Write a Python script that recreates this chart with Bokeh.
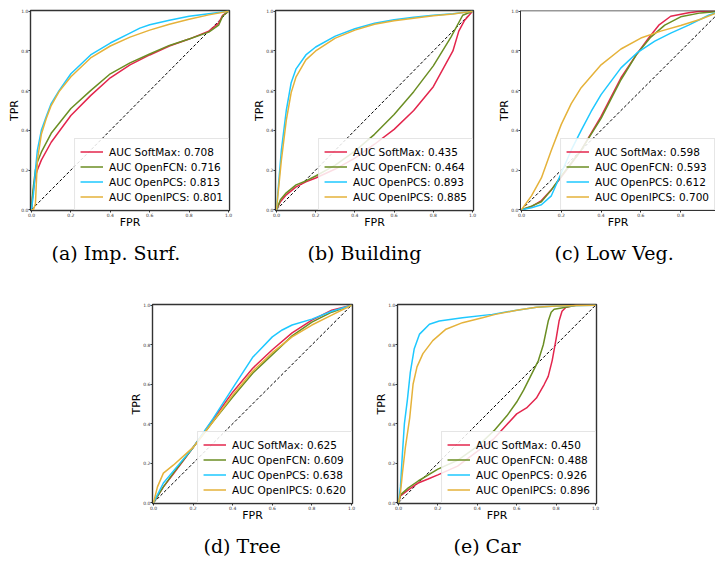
from bokeh.plotting import figure
from bokeh.layouts import column, row
from bokeh.models import Range1d, FixedTicker, PrintfTickFormatter, Spacer, Span
from bokeh.embed import file_html
from bokeh.resources import INLINE

METHODS = ["SoftMax", "OpenFCN", "OpenPCS", "OpenIPCS"]
COLORS = ["#e3264d", "#6b8e23", "#1ec8ff", "#e5b23a"]
TICKS = [0.0, 0.2, 0.4, 0.6, 0.8, 1.0]

CAPTIONS = ["(a) Imp. Surf.", "(b) Building", "(c) Low Veg.", "(d) Tree", "(e) Car"]
AUC_A = [0.708, 0.716, 0.813, 0.801]
AUC_B = [0.435, 0.464, 0.893, 0.885]
AUC_C = [0.598, 0.593, 0.612, 0.700]
AUC_D = [0.625, 0.609, 0.638, 0.620]
AUC_E = [0.450, 0.488, 0.926, 0.896]

# (a) Imp. Surf.
A_SOFTMAX_FPR = [0, 0.005, 0.01, 0.02, 0.03, 0.05, 0.1, 0.2, 0.3, 0.4, 0.5, 0.6, 0.7, 0.8, 0.9, 0.95, 0.97, 1.0]
A_SOFTMAX_TPR = [0, 0.06, 0.1, 0.17, 0.2, 0.25, 0.34, 0.475, 0.575, 0.665, 0.73, 0.78, 0.825, 0.86, 0.9, 0.94, 0.98, 1.0]
A_OPENFCN_FPR = [0, 0.005, 0.01, 0.02, 0.03, 0.05, 0.1, 0.2, 0.3, 0.4, 0.5, 0.6, 0.7, 0.8, 0.9, 0.95, 0.97, 1.0]
A_OPENFCN_TPR = [0, 0.07, 0.12, 0.2, 0.24, 0.29, 0.385, 0.51, 0.6, 0.685, 0.74, 0.785, 0.828, 0.86, 0.895, 0.93, 0.975, 1.0]
A_OPENPCS_FPR = [0, 0.01, 0.02, 0.03, 0.05, 0.075, 0.1, 0.14, 0.2, 0.3, 0.4, 0.5, 0.55, 0.6, 0.7, 0.8, 0.9, 1.0]
A_OPENPCS_TPR = [0, 0.08, 0.2, 0.3, 0.4, 0.47, 0.535, 0.6, 0.685, 0.78, 0.84, 0.89, 0.915, 0.932, 0.955, 0.975, 0.988, 1.0]
A_OPENIPCS_FPR = [0, 0.01, 0.02, 0.03, 0.05, 0.075, 0.1, 0.14, 0.2, 0.3, 0.4, 0.5, 0.6, 0.7, 0.8, 0.9, 1.0]
A_OPENIPCS_TPR = [0, 0.0, 0.03, 0.25, 0.38, 0.46, 0.525, 0.595, 0.67, 0.765, 0.825, 0.87, 0.905, 0.935, 0.96, 0.982, 1.0]

# (b) Building
B_SOFTMAX_FPR = [0, 0.02, 0.05, 0.1, 0.15, 0.2, 0.3, 0.4, 0.5, 0.6, 0.7, 0.8, 0.9, 0.93, 0.96, 1.0]
B_SOFTMAX_TPR = [0, 0.04, 0.075, 0.115, 0.14, 0.16, 0.205, 0.26, 0.33, 0.405, 0.5, 0.62, 0.8, 0.9, 0.955, 1.0]
B_OPENFCN_FPR = [0, 0.02, 0.05, 0.1, 0.15, 0.2, 0.3, 0.4, 0.5, 0.6, 0.7, 0.8, 0.89, 0.95, 1.0]
B_OPENFCN_TPR = [0, 0.05, 0.085, 0.125, 0.145, 0.17, 0.225, 0.295, 0.38, 0.48, 0.595, 0.725, 0.87, 0.98, 1.0]
B_OPENPCS_FPR = [0, 0.01, 0.025, 0.05, 0.075, 0.1, 0.15, 0.2, 0.3, 0.4, 0.5, 0.6, 0.7, 0.8, 0.9, 1.0]
B_OPENPCS_TPR = [0, 0.12, 0.3, 0.5, 0.64, 0.71, 0.78, 0.82, 0.875, 0.912, 0.94, 0.957, 0.97, 0.98, 0.988, 1.0]
B_OPENIPCS_FPR = [0, 0.01, 0.025, 0.05, 0.075, 0.1, 0.15, 0.2, 0.3, 0.4, 0.5, 0.6, 0.7, 0.8, 0.9, 1.0]
B_OPENIPCS_TPR = [0, 0.1, 0.25, 0.45, 0.59, 0.67, 0.755, 0.8, 0.865, 0.905, 0.935, 0.952, 0.965, 0.977, 0.986, 1.0]

# (c) Low Veg.
C_SOFTMAX_FPR = [0, 0.05, 0.1, 0.15, 0.2, 0.3, 0.4, 0.5, 0.58, 0.64, 0.69, 0.75, 0.84, 0.9, 1.0]
C_SOFTMAX_TPR = [0, 0.015, 0.046, 0.1, 0.165, 0.3, 0.47, 0.665, 0.785, 0.867, 0.93, 0.975, 0.993, 1.0, 1.0]
C_OPENFCN_FPR = [0, 0.05, 0.1, 0.15, 0.2, 0.3, 0.4, 0.5, 0.58, 0.65, 0.72, 0.8, 0.9, 1.0]
C_OPENFCN_TPR = [0, 0.018, 0.04, 0.1, 0.17, 0.3, 0.46, 0.655, 0.785, 0.87, 0.93, 0.972, 0.992, 1.0]
C_OPENPCS_FPR = [0, 0.05, 0.1, 0.15, 0.2, 0.25, 0.3, 0.35, 0.4, 0.5, 0.58, 0.67, 0.75, 0.84, 0.94, 1.0]
C_OPENPCS_TPR = [0, 0.01, 0.025, 0.07, 0.185, 0.3, 0.4, 0.495, 0.58, 0.715, 0.79, 0.85, 0.89, 0.93, 0.98, 1.0]
C_OPENIPCS_FPR = [0, 0.05, 0.1, 0.15, 0.2, 0.25, 0.3, 0.4, 0.5, 0.6, 0.7, 0.8, 0.9, 1.0]
C_OPENIPCS_TPR = [0, 0.07, 0.16, 0.3, 0.43, 0.535, 0.615, 0.73, 0.81, 0.865, 0.9, 0.928, 0.96, 1.0]

# (d) Tree
D_SOFTMAX_FPR = [0, 0.05, 0.1, 0.2, 0.3, 0.4, 0.5, 0.6, 0.7, 0.8, 0.9, 1.0]
D_SOFTMAX_TPR = [0, 0.08, 0.145, 0.28, 0.42, 0.56, 0.68, 0.775, 0.86, 0.925, 0.975, 1.0]
D_OPENFCN_FPR = [0, 0.05, 0.1, 0.2, 0.3, 0.4, 0.5, 0.6, 0.7, 0.8, 0.9, 1.0]
D_OPENFCN_TPR = [0, 0.08, 0.15, 0.28, 0.41, 0.535, 0.655, 0.75, 0.845, 0.915, 0.965, 1.0]
D_OPENPCS_FPR = [0, 0.05, 0.1, 0.2, 0.3, 0.4, 0.5, 0.6, 0.65, 0.7, 0.8, 0.9, 1.0]
D_OPENPCS_TPR = [0, 0.1, 0.16, 0.28, 0.425, 0.58, 0.735, 0.84, 0.875, 0.9, 0.93, 0.97, 1.0]
D_OPENIPCS_FPR = [0, 0.02, 0.05, 0.1, 0.2, 0.3, 0.4, 0.5, 0.6, 0.7, 0.8, 0.9, 1.0]
D_OPENIPCS_TPR = [0, 0.08, 0.15, 0.19, 0.28, 0.41, 0.545, 0.665, 0.76, 0.84, 0.9, 0.95, 1.0]

# (e) Car
E_SOFTMAX_FPR = [0, 0.01, 0.05, 0.1, 0.15, 0.2, 0.3, 0.4, 0.485, 0.6, 0.65, 0.7, 0.74, 0.76, 0.78, 0.8, 0.815, 0.83, 0.85, 0.9, 1.0]
E_SOFTMAX_TPR = [0, 0.035, 0.065, 0.1, 0.12, 0.141, 0.185, 0.26, 0.325, 0.45, 0.48, 0.53, 0.6, 0.64, 0.72, 0.83, 0.92, 0.97, 0.99, 1.0, 1.0]
E_OPENFCN_FPR = [0, 0.01, 0.05, 0.1, 0.2, 0.3, 0.4, 0.485, 0.55, 0.6, 0.635, 0.67, 0.71, 0.735, 0.76, 0.775, 0.79, 0.85, 0.9, 1.0]
E_OPENFCN_TPR = [0, 0.04, 0.075, 0.11, 0.17, 0.215, 0.285, 0.365, 0.44, 0.51, 0.57, 0.64, 0.72, 0.8, 0.92, 0.965, 0.98, 0.99, 1.0, 1.0]
E_OPENPCS_FPR = [0, 0.01, 0.02, 0.03, 0.045, 0.06, 0.08, 0.107, 0.157, 0.207, 0.325, 0.476, 0.6, 0.7, 0.8, 1.0]
E_OPENPCS_TPR = [0, 0.08, 0.25, 0.4, 0.52, 0.66, 0.78, 0.854, 0.904, 0.92, 0.937, 0.954, 0.975, 0.99, 0.997, 1.0]
E_OPENIPCS_FPR = [0, 0.01, 0.02, 0.035, 0.057, 0.074, 0.094, 0.124, 0.174, 0.241, 0.325, 0.426, 0.492, 0.6, 0.7, 0.8, 1.0]
E_OPENIPCS_TPR = [0, 0.05, 0.15, 0.28, 0.43, 0.6, 0.688, 0.755, 0.821, 0.879, 0.912, 0.937, 0.954, 0.975, 0.99, 0.997, 1.0]

DIAG = [0.0, 1.0]

PANELS = [
    (CAPTIONS[0], AUC_A, [(A_SOFTMAX_FPR, A_SOFTMAX_TPR), (A_OPENFCN_FPR, A_OPENFCN_TPR), (A_OPENPCS_FPR, A_OPENPCS_TPR), (A_OPENIPCS_FPR, A_OPENIPCS_TPR)]),
    (CAPTIONS[1], AUC_B, [(B_SOFTMAX_FPR, B_SOFTMAX_TPR), (B_OPENFCN_FPR, B_OPENFCN_TPR), (B_OPENPCS_FPR, B_OPENPCS_TPR), (B_OPENIPCS_FPR, B_OPENIPCS_TPR)]),
    (CAPTIONS[2], AUC_C, [(C_SOFTMAX_FPR, C_SOFTMAX_TPR), (C_OPENFCN_FPR, C_OPENFCN_TPR), (C_OPENPCS_FPR, C_OPENPCS_TPR), (C_OPENIPCS_FPR, C_OPENIPCS_TPR)]),
    (CAPTIONS[3], AUC_D, [(D_SOFTMAX_FPR, D_SOFTMAX_TPR), (D_OPENFCN_FPR, D_OPENFCN_TPR), (D_OPENPCS_FPR, D_OPENPCS_TPR), (D_OPENIPCS_FPR, D_OPENIPCS_TPR)]),
    (CAPTIONS[4], AUC_E, [(E_SOFTMAX_FPR, E_SOFTMAX_TPR), (E_OPENFCN_FPR, E_OPENFCN_TPR), (E_OPENPCS_FPR, E_OPENPCS_TPR), (E_OPENIPCS_FPR, E_OPENIPCS_TPR)]),
]


def make_panel(idx, width, height, bl, br, bt, bb, cap_off, xend=1.005, clip_right=False, legend_margin=0):
    caption, aucs, curves = PANELS[idx]
    p = figure(width=width, height=height, output_backend="svg", toolbar_location=None,
               x_range=Range1d(-0.005, xend), y_range=Range1d(-0.004, 1.004),
               min_border_left=bl, min_border_right=br, min_border_top=bt, min_border_bottom=bb,
               title_location="below")
    p.background_fill_color = "white"
    p.border_fill_color = "white"
    p.xgrid.visible = False
    p.ygrid.visible = False
    if clip_right:
        p.outline_line_color = None
        p.add_layout(Span(location=1.004, dimension="width", line_color="#333333", line_width=1.5))
    else:
        p.outline_line_color = "#333333"
        p.outline_line_width = 1.4
    for ax, lab, lab_sd in ((p.xaxis[0], "FPR", -4), (p.yaxis[0], "TPR", -3)):
        ax.ticker = FixedTicker(ticks=TICKS)
        ax.formatter = PrintfTickFormatter(format="%.1f")
        ax.minor_tick_line_color = None
        ax.major_tick_out = 2
        ax.major_tick_in = 0
        ax.major_tick_line_color = "#333333"
        ax.major_label_standoff = 0
        ax.major_label_text_font = "DejaVu Sans"
        ax.major_label_text_font_size = "4.5px"
        ax.major_label_text_color = "#333333"
        ax.axis_line_color = "#333333"
        ax.axis_label = lab
        ax.axis_label_text_font = "DejaVu Sans"
        ax.axis_label_text_font_size = "11px"
        ax.axis_label_text_font_style = "normal"
        ax.axis_label_text_color = "black"
        ax.axis_label_standoff = lab_sd
    p.line(DIAG, DIAG, line_color="black", line_dash="3 2", line_width=1)
    for m, col, auc, (fx, ty) in zip(METHODS, COLORS, aucs, curves):
        p.line(fx, ty, line_color=col, line_width=1.5,
               legend_label="AUC %s: %.3f" % (m, auc))
    lg = p.legend[0]
    lg.location = "bottom_right"
    lg.margin = legend_margin
    lg.padding = 5
    lg.spacing = 0
    lg.label_height = 15
    lg.glyph_height = 15
    lg.glyph_width = 23
    lg.label_standoff = 6
    lg.label_text_font = "DejaVu Sans"
    lg.label_text_font_size = "10.5px"
    lg.label_text_color = "black"
    lg.border_line_color = "#cccccc"
    lg.border_line_width = 1
    lg.background_fill_alpha = 0.85
    p.title.text = caption
    p.title.text_font = "DejaVu Serif"
    p.title.text_font_size = "19px"
    p.title.text_font_style = "normal"
    p.title.text_color = "black"
    p.title.align = "left"
    p.title.offset = cap_off
    p.title.standoff = 17
    return p


H1 = 272
H2 = 565 - H1
fa = make_panel(0, 240, H1, 30, 11, 10, H1 - 10 - 201, 21)
fb = make_panel(1, 240, H1, 35, 7, 10, H1 - 10 - 201, 32)
fc = make_panel(2, 235, H1, 40, 0, 10, H1 - 10 - 201, 34, xend=0.975, clip_right=True, legend_margin=0)
fd = make_panel(3, 242, H2, 32, 10, 304 - H1, H2 - (304 - H1) - 202, 51)
fe = make_panel(4, 244, H2, 35, 10, 304 - H1, H2 - (304 - H1) - 201, 56)

layout = column(row(fa, fb, fc), row(Spacer(width=120, height=H2), fd, fe))
open("out.html", "w").write(file_html(layout, INLINE))
